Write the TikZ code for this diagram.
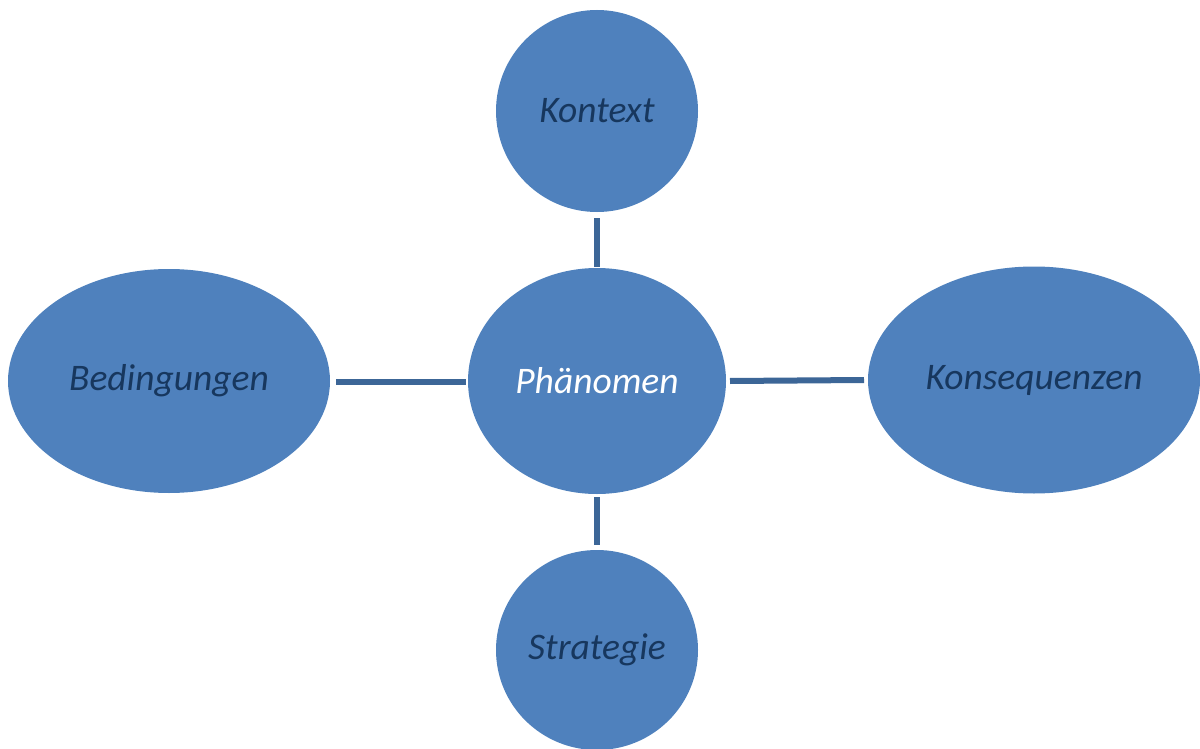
\documentclass[tikz,border=0pt]{standalone}
\usepackage{fontspec}
\setmainfont{Carlito}
\usetikzlibrary{shapes.geometric}
\definecolor{bubble}{HTML}{4F81BD}
\definecolor{linkc}{HTML}{3C6697}
\definecolor{txt}{HTML}{17375E}
\tikzset{
  bub/.style={ellipse, fill=bubble, inner sep=0pt, font=\fontsize{37.5}{42}\selectfont\itshape, text=txt},
  link/.style={draw=linkc, line width=6pt}
}
\begin{document}
\begin{tikzpicture}[x=1pt,y=-1pt]
\useasboundingbox (0,0) rectangle (1200,749);
\node[bub, minimum width=202pt, minimum height=202pt] (kon) at (597,111) {Kontext};
\node[bub, minimum width=258pt, minimum height=226pt, text=white] (ph) at (597,381) {Phänomen};
\node[bub, minimum width=322pt, minimum height=224pt] (bed) at (169,381) {Bedingungen};
\node[bub, minimum width=332pt, minimum height=227pt] (kq) at (1034,380) {\raisebox{-2pt}{Konsequenzen}};
\node[bub, minimum width=202pt, minimum height=200pt] (str) at (597,650) {\raisebox{-3pt}{Strategie}};
\coordinate (a1) at (597,218); \coordinate (a2) at (597,267);
\coordinate (b1) at (597,497); \coordinate (b2) at (597,545);
\coordinate (c1) at (336,382); \coordinate (c2) at (466,382);
\coordinate (d1) at (730,381); \coordinate (d2) at (864,380);
\draw[link] (a1) -- (a2);
\draw[link] (b1) -- (b2);
\draw[link] (c1) -- (c2);
\draw[link] (d1) -- (d2);
\end{tikzpicture}
\end{document}
